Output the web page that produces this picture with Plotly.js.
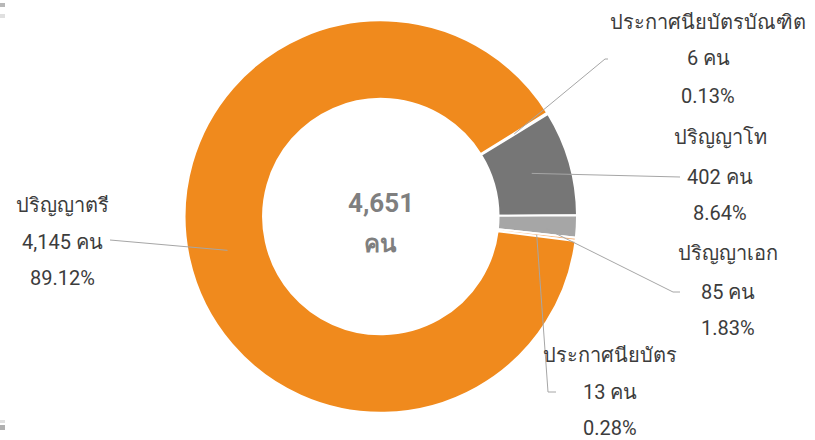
<!DOCTYPE html>
<html>
<head>
<meta charset="utf-8">
<script src="https://cdn.plot.ly/plotly-3.0.1.min.js"></script>
<style>html,body{margin:0;padding:0;background:#fff;}#chart{width:815px;height:440px;}</style>
</head>
<body>
<div id="chart"></div>
<script>
// ---- data ----
var labels = ['ประกาศนียบัตรบัณฑิต', 'ปริญญาโท', 'ปริญญาเอก', 'ประกาศนียบัตร', 'ปริญญาตรี'];
var values = [6, 402, 85, 13, 4145];
var unit = 'คน';
var colors = ['#FAD2AA', '#767676', '#A6A6A6', '#F7B57A', '#F08A1D'];

// ---- geometry / style ----
var W = 815, H = 440;
var domX = [0.2265, 0.708], domY = [0.061, 0.9545];
var rotation = 58, hole = 0.6;
var textColor = '#3C3C3C';
var fontFam = 'Roboto, "Noto Sans", sans-serif';

var total = values.reduce(function (a, b) { return a + b; }, 0);
function fmt(n) { return n.toLocaleString('en-US'); }

// label placement (pixels): text centre x, line y's, leader anchor, optional tick end
var labelPos = [
  {cx: 708, ys: [22, 58, 96], anchor: [605, 59], tick: [608, 59]},
  {cx: 720, ys: [137, 177, 213], anchor: [680, 177], tick: null},
  {cx: 728, ys: [253, 292, 328], anchor: [673, 292], tick: [680, 292]},
  {cx: 610, ys: [355, 392, 428], anchor: [548, 392], tick: [556, 392]},
  {cx: 62, ys: [205, 242, 278], anchor: [110, 240], tick: null}
];

function px(x) { return x / W; }
function py(y) { return 1 - y / H; }

// pie geometry derived from the domain, like plotly does
var dW = (domX[1] - domX[0]) * W, dH = (domY[1] - domY[0]) * H;
var R = Math.min(dW, dH) / 2;
var cx0 = (domX[0] + domX[1]) / 2 * W;
var cy0 = (1 - (domY[0] + domY[1]) / 2) * H;
var rMid = R * (1 + hole) / 2;

var shapes = [];
var annotations = [];
var cum = 0;
values.forEach(function (v, i) {
  var midFrac = (cum + v / 2) / total;
  cum += v;
  var ang = (rotation + midFrac * 360) * Math.PI / 180;
  var ix = cx0 + rMid * Math.sin(ang), iy = cy0 - rMid * Math.cos(ang);
  var lp = labelPos[i];
  shapes.push({type: 'line', xref: 'paper', yref: 'paper',
    x0: px(ix), y0: py(iy), x1: px(lp.anchor[0]), y1: py(lp.anchor[1]),
    line: {color: '#A6A6A6', width: 1}});
  if (lp.tick) {
    shapes.push({type: 'line', xref: 'paper', yref: 'paper',
      x0: px(lp.anchor[0]), y0: py(lp.anchor[1]), x1: px(lp.tick[0]), y1: py(lp.tick[1]),
      line: {color: '#A6A6A6', width: 1}});
  }
  var lines = [labels[i], fmt(v) + ' ' + unit, (v / total * 100).toFixed(2) + '%'];
  lines.forEach(function (t, k) {
    annotations.push({xref: 'paper', yref: 'paper', x: px(lp.cx), y: py(lp.ys[k]),
      xanchor: 'center', yanchor: 'middle', showarrow: false, text: t,
      font: {family: fontFam, size: 20, color: textColor}});
  });
});

// centre total
annotations.push({xref: 'paper', yref: 'paper', x: px(cx0), y: py(203), xanchor: 'center', yanchor: 'middle',
  showarrow: false, text: '<b>' + fmt(total) + '</b>', font: {family: fontFam, size: 26, color: '#7F7F7F'}});
annotations.push({xref: 'paper', yref: 'paper', x: px(cx0), y: py(244), xanchor: 'center', yanchor: 'middle',
  showarrow: false, text: '<b>' + unit + '</b>', font: {family: fontFam, size: 24, color: '#7F7F7F'}});

// small corner marks
[[3, 7, '#B8B8B8'], [14, 18, '#E0E0E0'], [420, 423, '#E0E0E0'], [425, 430, '#B0B0B0']].forEach(function (m) {
  shapes.push({type: 'rect', xref: 'paper', yref: 'paper', x0: 0, x1: px(5), y0: py(m[1]), y1: py(m[0]),
    fillcolor: m[2], line: {width: 0}});
});

var trace = {
  type: 'pie', labels: labels, values: values, sort: false, direction: 'clockwise',
  rotation: rotation, hole: hole, textinfo: 'none', hoverinfo: 'none',
  marker: {colors: colors, line: {color: '#FFFFFF', width: 2}},
  domain: {x: domX, y: domY}, showlegend: false
};

var layout = {
  width: W, height: H, margin: {l: 0, r: 0, t: 0, b: 0},
  paper_bgcolor: '#FFFFFF', plot_bgcolor: '#FFFFFF', showlegend: false,
  shapes: shapes, annotations: annotations
};

Plotly.newPlot('chart', [trace], layout, {displayModeBar: false, staticPlot: true});
</script>
</body>
</html>
